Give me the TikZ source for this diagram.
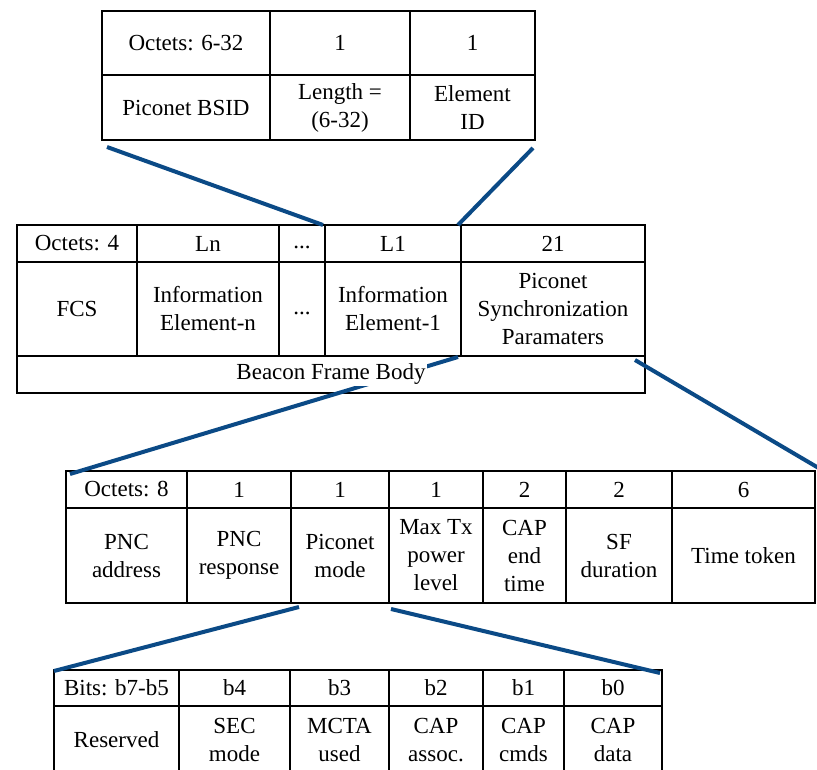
\documentclass[tikz,border=0pt]{standalone}
\usepackage{fontspec}
\setmainfont{Liberation Serif}
\definecolor{linkblue}{HTML}{0B4A86}
% one table cell: name, left, right, top, bottom, text
\newcommand\tabcell[6]{%
  \node[cell, minimum width={(#3-#2)*1pt}, minimum height={(#5-#4)*1pt}]
    (#1) at ({(#2+#3)/2},{(#4+#5)/2}) {#6};}
% dots that sit on the text baseline
\newcommand\basedots{\vphantom{Lg}...}
\begin{document}
\begin{tikzpicture}[x=1pt,y=-1pt,
  cell/.style={draw=black, line width=2.5pt, rectangle, inner sep=0pt,
    outer sep=0pt, align=center, font=\fontsize{23}{28}\selectfont},
  zoomline/.style={draw=linkblue, line width=4pt},
  label/.style={fill=white, inner sep=1pt, font=\fontsize{23}{28}\selectfont}]
\clip (0,0) rectangle (817,770);
\fill[white] (0,0) rectangle (817,770);

% Information element: Piconet BSID
\tabcell{ba}{102}{270}{11}{75}{Octets: 6-32}
\tabcell{bb}{270}{410}{11}{75}{1}
\tabcell{bc}{410}{535}{11}{75}{1}
\tabcell{bd}{102}{270}{75}{140}{Piconet BSID}
\tabcell{be}{270}{410}{75}{140}{Length =\\(6-32)}
\tabcell{bf}{410}{535}{75}{140}{Element\\ID}

% Beacon frame body
\tabcell{fa}{17}{137}{225}{262}{Octets: 4}
\tabcell{fb}{137}{279}{225}{262}{Ln}
\tabcell{fc}{279}{325}{225}{262}{\basedots}
\tabcell{fd}{325}{461}{225}{262}{L1}
\tabcell{fe}{461}{645}{225}{262}{21}
\tabcell{ff}{17}{137}{262}{356}{FCS}
\tabcell{fg}{137}{279}{262}{356}{Information\\Element-n}
\tabcell{fh}{279}{325}{262}{356}{\basedots}
\tabcell{fi}{325}{461}{262}{356}{Information\\Element-1}
\tabcell{fj}{461}{645}{262}{356}{Piconet\\Synchronization\\Paramaters}
\tabcell{fk}{17}{645}{356}{393}{}

% Piconet synchronization parameters
\tabcell{sa}{66}{187}{471}{508}{Octets: 8}
\tabcell{sb}{187}{291}{471}{508}{1}
\tabcell{sc}{291}{389}{471}{508}{1}
\tabcell{sd}{389}{483}{471}{508}{1}
\tabcell{se}{483}{566}{471}{508}{2}
\tabcell{sf}{566}{672}{471}{508}{2}
\tabcell{sg}{672}{815}{471}{508}{6}
\tabcell{sh}{66}{187}{508}{603}{PNC\\address}
\tabcell{si}{187}{291}{508}{603}{PNC\\response}
\tabcell{sj}{291}{389}{508}{603}{Piconet\\mode}
\tabcell{sk}{389}{483}{508}{603}{Max Tx\\power\\level}
\tabcell{sl}{483}{566}{508}{603}{CAP\\end\\time}
\tabcell{sm}{566}{672}{508}{603}{SF\\duration}
\tabcell{sn}{672}{815}{508}{603}{Time token}

% Piconet mode bits
\tabcell{ma}{54}{179}{670}{706}{Bits: b7-b5}
\tabcell{mb}{179}{290}{670}{706}{b4}
\tabcell{mc}{290}{389}{670}{706}{b3}
\tabcell{md}{389}{483}{670}{706}{b2}
\tabcell{me}{483}{564}{670}{706}{b1}
\tabcell{mf}{564}{662}{670}{706}{b0}
\tabcell{mg}{54}{179}{706}{774}{Reserved}
\tabcell{mh}{179}{290}{706}{774}{SEC\\mode}
\tabcell{mi}{290}{389}{706}{774}{MCTA\\used}
\tabcell{mj}{389}{483}{706}{774}{CAP\\assoc.}
\tabcell{mk}{483}{564}{706}{774}{CAP\\cmds}
\tabcell{ml}{564}{662}{706}{774}{CAP\\data}

% ends of the expansion lines
\coordinate (p1) at (107,147);
\coordinate (p2) at (323,225);
\coordinate (p3) at (533,148);
\coordinate (p4) at (458,225);
\coordinate (p5) at (458,357);
\coordinate (p6) at (70,474);
\coordinate (p7) at (635,360);
\coordinate (p8) at (822,470);
\coordinate (p9) at (299,607);
\coordinate (p10) at (54,671);
\coordinate (p11) at (391,609);
\coordinate (p12) at (660,673);

\draw[zoomline] (p1) -- (p2);
\draw[zoomline] (p3) -- (p4);
\draw[zoomline] (p5) -- (p6);
\draw[zoomline] (p7) -- (p8);
\draw[zoomline] (p9) -- (p10);
\draw[zoomline] (p11) -- (p12);

\node[label] (body) at (fk.center) {Beacon Frame Body};
\end{tikzpicture}
\end{document}
